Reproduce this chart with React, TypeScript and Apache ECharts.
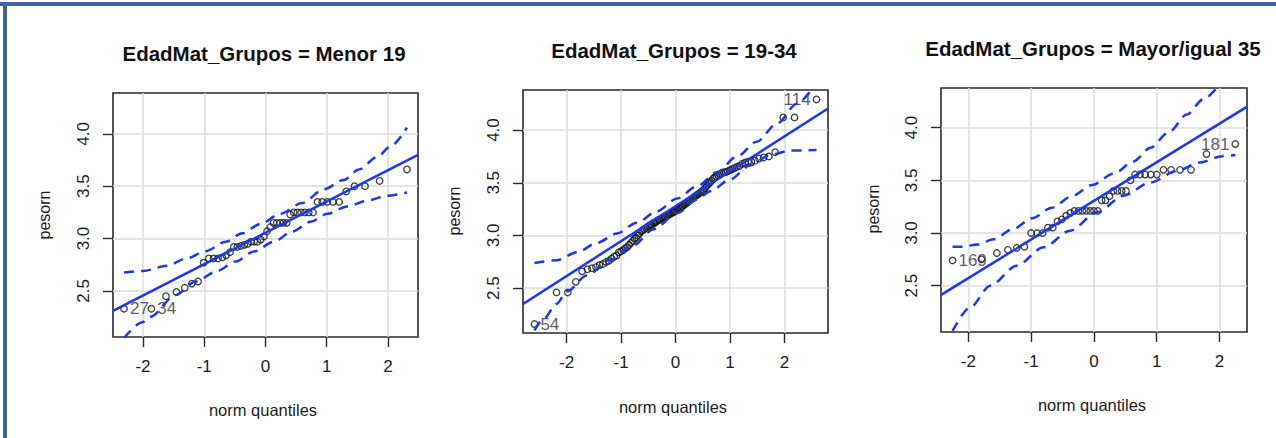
import { useEffect, useRef } from "react";
import * as echarts from "echarts";

// ---------- data ----------
const titles = [
  "EdadMat_Grupos = Menor 19",
  "EdadMat_Grupos = 19-34",
  "EdadMat_Grupos = Mayor/igual 35",
];
const xName = "norm quantiles";
const yName = "pesorn";
const xTicks = [-2, -1, 0, 1, 2];
const yTicks = [2.5, 3.0, 3.5, 4.0];

// Panel 1 : Menor 19
const theo1 = [-2.31, -1.863, -1.625, -1.454, -1.318, -1.203, -1.101, -1.01, -0.926, -0.849, -0.776, -0.706, -0.643, -0.58, -0.519, -0.46, -0.402, -0.346, -0.291, -0.237, -0.184, -0.131, -0.078, -0.026, 0.026, 0.078, 0.131, 0.184, 0.237, 0.291, 0.346, 0.402, 0.46, 0.519, 0.58, 0.643, 0.706, 0.776, 0.849, 0.926, 1.01, 1.101, 1.203, 1.318, 1.454, 1.625, 1.863, 2.31];
const peso1 = [2.33, 2.33, 2.45, 2.49, 2.53, 2.57, 2.59, 2.77, 2.81, 2.81, 2.81, 2.82, 2.84, 2.87, 2.92, 2.92, 2.93, 2.94, 2.95, 2.97, 2.97, 2.97, 2.99, 3.02, 3.07, 3.11, 3.15, 3.15, 3.15, 3.15, 3.15, 3.23, 3.25, 3.25, 3.25, 3.25, 3.25, 3.25, 3.35, 3.35, 3.35, 3.35, 3.35, 3.45, 3.5, 3.5, 3.55, 3.66];
const fit1 = [[-2.49, 2.31], [2.49, 3.8]];
const upper1 = [[-2.31, 2.675], [-2.0, 2.69], [-1.61, 2.74], [-1.29, 2.81], [-0.98, 2.88], [-0.65, 2.97], [-0.38, 3.05], [-0.08, 3.14], [0.245, 3.237], [0.6, 3.34], [0.95, 3.47], [1.28, 3.56], [1.525, 3.66], [1.825, 3.78], [2.04, 3.88], [2.31, 4.06]];
const lower1 = [[-2.31, 2.05], [-2.01, 2.2], [-1.88, 2.254], [-1.47, 2.46], [-1.14, 2.589], [-0.79, 2.69], [-0.49, 2.78], [-0.19, 2.876], [0.136, 2.97], [0.436, 3.067], [0.735, 3.16], [1.01, 3.236], [1.335, 3.306], [1.66, 3.363], [1.99, 3.41], [2.31, 3.44]];
const ids1 = [{ i: 0, text: "27" }, { i: 1, text: "34" }];

// Panel 2 : 19-34
const theo2 = [-2.589, -2.185, -1.977, -1.83, -1.714, -1.617, -1.534, -1.46, -1.394, -1.333, -1.276, -1.223, -1.174, -1.127, -1.083, -1.041, -1.0, -0.961, -0.923, -0.887, -0.852, -0.818, -0.784, -0.752, -0.721, -0.69, -0.66, -0.63, -0.601, -0.573, -0.544, -0.516, -0.489, -0.462, -0.435, -0.409, -0.383, -0.357, -0.331, -0.306, -0.281, -0.256, -0.231, -0.206, -0.182, -0.157, -0.133, -0.109, -0.085, -0.06, -0.036, -0.012,
  0.012, 0.036, 0.06, 0.085, 0.109, 0.133, 0.157, 0.182, 0.206, 0.231, 0.256, 0.281, 0.306, 0.331, 0.357, 0.383, 0.409, 0.435, 0.462, 0.489, 0.516, 0.544, 0.573, 0.601, 0.63, 0.66, 0.69, 0.721, 0.752, 0.784, 0.818, 0.852, 0.887, 0.923, 0.961, 1.0, 1.041, 1.083, 1.127, 1.174, 1.223, 1.276, 1.333, 1.394, 1.46, 1.534, 1.617, 1.714, 1.83, 1.977, 2.185, 2.589];
const peso2 = [2.16, 2.46, 2.46, 2.56, 2.66, 2.68, 2.69, 2.7, 2.72, 2.73, 2.75, 2.76, 2.78, 2.8, 2.81, 2.84, 2.85, 2.86, 2.88, 2.89, 2.91, 2.93, 2.95, 2.97, 2.98, 3.0, 3.02, 3.04, 3.05, 3.06, 3.07, 3.08, 3.09, 3.1, 3.1, 3.12, 3.12, 3.13, 3.14, 3.15, 3.15, 3.16, 3.17, 3.18, 3.18, 3.19, 3.2, 3.2, 3.21, 3.22, 3.22, 3.23,
  3.24, 3.25, 3.26, 3.26, 3.27, 3.28, 3.29, 3.3, 3.31, 3.32, 3.33, 3.34, 3.35, 3.36, 3.37, 3.38, 3.39, 3.4, 3.41, 3.42, 3.43, 3.45, 3.47, 3.49, 3.5, 3.52, 3.54, 3.55, 3.56, 3.57, 3.58, 3.59, 3.6, 3.6, 3.61, 3.62, 3.63, 3.64, 3.65, 3.66, 3.68, 3.69, 3.7, 3.7, 3.71, 3.73, 3.74, 3.75, 3.79, 4.12, 4.12, 4.29];
const fit2 = [[-2.8, 2.35], [2.8, 4.204]];
const upper2 = [[-2.589, 2.74], [-2.185, 2.765], [-1.81, 2.84], [-1.44, 2.93], [-1.075, 3.02], [-0.71, 3.12], [-0.34, 3.23], [0.026, 3.35], [0.39, 3.465], [0.76, 3.6], [1.13, 3.75], [1.49, 3.89], [1.86, 4.06], [2.23, 4.25], [2.589, 4.45]];
const lower2 = [[-2.589, 2.1], [-2.42, 2.21], [-2.185, 2.35], [-1.99, 2.47], [-1.63, 2.62], [-1.2, 2.77], [-0.77, 2.91], [-0.4, 3.06], [0.026, 3.21], [0.39, 3.34], [0.64, 3.42], [1.0, 3.53], [1.37, 3.665], [1.74, 3.765], [2.1, 3.805], [2.589, 3.81]];
const ids2 = [{ i: 0, text: "54" }, { i: 103, text: "114" }];

// Panel 3 : Mayor/igual 35
const theo3 = [-2.251, -1.792, -1.546, -1.37, -1.228, -1.107, -1.0, -0.904, -0.816, -0.733, -0.655, -0.581, -0.51, -0.442, -0.375, -0.311, -0.247, -0.184, -0.123, -0.061, 0, 0.061, 0.123, 0.184, 0.247, 0.311, 0.375, 0.442, 0.51, 0.581, 0.655, 0.733, 0.816, 0.904, 1.0, 1.107, 1.228, 1.37, 1.546, 1.792, 2.251];
const peso3 = [2.74, 2.75, 2.81, 2.84, 2.86, 2.87, 3.0, 3.0, 3.0, 3.05, 3.05, 3.11, 3.13, 3.165, 3.19, 3.21, 3.21, 3.21, 3.21, 3.21, 3.21, 3.21, 3.31, 3.31, 3.35, 3.4, 3.4, 3.4, 3.4, 3.5, 3.555, 3.555, 3.555, 3.555, 3.555, 3.6, 3.6, 3.6, 3.6, 3.75, 3.845];
const fit3 = [[-2.44, 2.41], [2.44, 4.2]];
const upper3 = [[-2.251, 2.87], [-2.1, 2.87], [-1.85, 2.89], [-1.6, 2.94], [-1.28, 3.04], [-0.99, 3.14], [-0.67, 3.24], [-0.35, 3.35], [-0.03, 3.456], [0.32, 3.565], [0.63, 3.68], [0.9, 3.81], [1.19, 3.956], [1.48, 4.125], [1.74, 4.27], [2.04, 4.4], [2.251, 4.55]];
const lower3 = [[-2.251, 2.07], [-1.97, 2.294], [-1.65, 2.5], [-1.23, 2.69], [-0.8, 2.864], [-0.38, 3.022], [0.05, 3.196], [0.47, 3.354], [0.9, 3.48], [1.32, 3.59], [1.69, 3.67], [2.04, 3.73], [2.251, 3.74]];
const ids3 = [{ i: 0, text: "169" }, { i: 40, text: "181" }];

// axis ranges per panel
const xRange1 = [-2.49, 2.49];
const xRange2 = [-2.8, 2.8];
const xRange3 = [-2.435, 2.437];
const yRange1 = [2.06, 4.39];
const yRange2 = [2.075, 4.38];
const yRange3 = [2.06, 4.377];

// ---------- layout / style ----------
const FONT = '"Liberation Sans", Arial, Helvetica, sans-serif';
const BLUE = "#1b38f2";
const INK = "#1c1c1c";

const panels = [
  { theo: theo1, peso: peso1, fit: fit1, upper: upper1, lower: lower1, ids: ids1, xr: xRange1, yr: yRange1,
    grid: { left: 113, top: 93, width: 305, height: 244 }, title: [264, 53], yl: [44, 215], xl: [263, 410] },
  { theo: theo2, peso: peso2, fit: fit2, upper: upper2, lower: lower2, ids: ids2, xr: xRange2, yr: yRange2,
    grid: { left: 523, top: 90, width: 305, height: 243 }, title: [674, 50], yl: [454, 211], xl: [673, 407] },
  { theo: theo3, peso: peso3, fit: fit3, upper: upper3, lower: lower3, ids: ids3, xr: xRange3, yr: yRange3,
    grid: { left: 941, top: 88, width: 306, height: 244 }, title: [1093, 48], yl: [873, 209], xl: [1092, 405] },
];

function buildOption() {
  const grid: any[] = [];
  const xAxis: any[] = [];
  const yAxis: any[] = [];
  const series: any[] = [];
  const graphic: any[] = [
    { type: "rect", shape: { x: 0, y: 2, width: 1276, height: 4 }, style: { fill: "#3f66a4" }, silent: true },
    { type: "rect", shape: { x: 3, y: 2, width: 4, height: 436 }, style: { fill: "#3f66a4" }, silent: true },
  ];

  panels.forEach((p, k) => {
    grid.push({ ...p.grid, show: true, borderColor: "#2a2a2a", borderWidth: 1.6, backgroundColor: "transparent" });
    xAxis.push({
      type: "value", gridIndex: k, min: p.xr[0], max: p.xr[1], position: "bottom",
      axisLine: { show: false, onZero: false },
      axisTick: { show: true, inside: false, length: 10, customValues: xTicks, lineStyle: { color: "#2a2a2a", width: 1.4 } },
      axisLabel: { customValues: xTicks, margin: 21, fontSize: 17, color: INK, fontFamily: FONT, formatter: (v: number) => String(v) },
      splitLine: { show: true, lineStyle: { color: "#dcdcdc", width: 1.5 } },
    });
    yAxis.push({
      type: "value", gridIndex: k, min: p.yr[0], max: p.yr[1], position: "left",
      axisLine: { show: false, onZero: false },
      axisTick: { show: true, inside: false, length: 10, customValues: yTicks, lineStyle: { color: "#2a2a2a", width: 1.4 } },
      axisLabel: { customValues: yTicks, margin: 21, rotate: 90, fontSize: 17, color: INK, fontFamily: FONT, formatter: (v: number) => v.toFixed(1) },
      splitLine: { show: true, lineStyle: { color: "#dcdcdc", width: 1.5 } },
    });

    const idMap: Record<number, string> = {};
    p.ids.forEach((d) => (idMap[d.i] = d.text));
    series.push({
      type: "scatter", xAxisIndex: k, yAxisIndex: k, silent: true, z: 2,
      symbol: "circle", symbolSize: 6.5,
      itemStyle: { color: "rgba(0,0,0,0)", borderColor: "#111", borderWidth: 1.3 },
      data: p.theo.map((x, j) => {
        const item: any = { value: [x, p.peso[j]] };
        if (idMap[j] !== undefined) {
          item.label = {
            show: true, formatter: idMap[j], position: x < 0 ? "right" : "left", distance: 2,
            fontSize: 17, color: "#333", fontFamily: FONT,
          };
        }
        return item;
      }),
    });
    series.push({
      type: "line", xAxisIndex: k, yAxisIndex: k, silent: true, z: 3, showSymbol: false, clip: true,
      lineStyle: { color: BLUE, width: 2.5 }, data: p.fit,
    });
    [p.upper, p.lower].forEach((env) => {
      series.push({
        type: "line", xAxisIndex: k, yAxisIndex: k, silent: true, z: 3, showSymbol: false, clip: true,
        smooth: 0.3, smoothMonotone: "x",
        lineStyle: { color: BLUE, width: 2.5, type: [10, 7] }, data: env,
      });
    });

    graphic.push({
      type: "text", x: p.title[0], y: p.title[1], silent: true,
      style: { text: titles[k], fontSize: 20.5, fontWeight: "bold", fontFamily: FONT, fill: "#111", align: "center", verticalAlign: "middle" },
    });
    graphic.push({
      type: "text", x: p.yl[0], y: p.yl[1], rotation: Math.PI / 2, silent: true,
      style: { text: yName, fontSize: 16, fontFamily: FONT, fill: INK, align: "center", verticalAlign: "middle" },
    });
    graphic.push({
      type: "text", x: p.xl[0], y: p.xl[1], silent: true,
      style: { text: xName, fontSize: 16.5, fontFamily: FONT, fill: INK, align: "center", verticalAlign: "middle" },
    });
  });

  return { animation: false, backgroundColor: "#ffffff", grid, xAxis, yAxis, series, graphic };
}

export default function App() {
  const ref = useRef<HTMLDivElement>(null);
  useEffect(() => {
    if (!ref.current) return;
    const chart = echarts.init(ref.current, null, { renderer: "svg" });
    chart.setOption(buildOption() as any);
    return () => chart.dispose();
  }, []);
  return <div ref={ref} style={{ position: "fixed", left: 0, top: 0, width: 1276, height: 438 }} />;
}
